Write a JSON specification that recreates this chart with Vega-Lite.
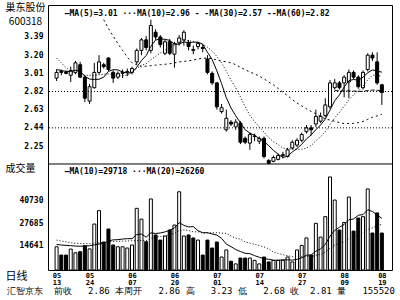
{
  "$schema": "https://vega.github.io/schema/vega-lite/v6.json",
  "width": 344,
  "height": 265,
  "autosize": "none",
  "padding": {"left": 48, "top": 5, "right": 8, "bottom": 30},
  "background": "white",
  "config": {"view": {"stroke": "black", "strokeWidth": 1}},
  "title": {"text": "汇智京东\u00a0\u00a0前收\u00a0\u00a0\u00a02.86\u00a0本周开\u00a0\u00a0\u00a02.86\u00a0高\u00a0\u00a0\u00a03.23\u00a0低\u00a0\u00a0\u00a02.68\u00a0收\u00a0\u00a02.81\u00a0量\u00a0\u00a0\u00a0155520", "orient": "bottom", "anchor": "start", "frame": "group", "dx": -41, "offset": 2, "font": "DejaVu Sans Mono", "fontSize": 9, "fontWeight": "normal", "color": "black"},
  "data": {"values": [
    {"i":0,"o":2.96,"h":3.05,"l":2.93,"c":3.02,"v":14200,"m5":3.05,"m10":3.17,"m30":null,"m60":null,"a10":15500,"a20":18000},
    {"i":1,"o":3.03,"h":3.05,"l":2.99,"c":3.02,"v":9500,"m5":3.04,"m10":3.12,"m30":null,"m60":null,"a10":15200,"a20":17500},
    {"i":2,"o":3.02,"h":3.04,"l":3.00,"c":3.01,"v":9500,"m5":3.03,"m10":3.07,"m30":null,"m60":null,"a10":15000,"a20":17000},
    {"i":3,"o":2.99,"h":3.08,"l":2.92,"c":3.04,"v":12900,"m5":3.03,"m10":3.03,"m30":null,"m60":null,"a10":14800,"a20":16500},
    {"i":4,"o":3.02,"h":3.14,"l":3.00,"c":3.12,"v":10800,"m5":3.042,"m10":3.01,"m30":null,"m60":null,"a10":14600,"a20":16200},
    {"i":5,"o":3.10,"h":3.13,"l":2.96,"c":2.97,"v":11400,"m5":3.032,"m10":3.00,"m30":null,"m60":null,"a10":14500,"a20":16000},
    {"i":6,"o":2.97,"h":2.99,"l":2.71,"c":2.75,"v":14800,"m5":2.978,"m10":2.99,"m30":null,"m60":null,"a10":14600,"a20":16000},
    {"i":7,"o":2.72,"h":2.90,"l":2.69,"c":2.87,"v":13000,"m5":2.95,"m10":2.99,"m30":null,"m60":null,"a10":14800,"a20":16000},
    {"i":8,"o":2.86,"h":3.12,"l":2.85,"c":3.02,"v":27100,"m5":2.946,"m10":2.99,"m30":null,"m60":null,"a10":15300,"a20":16200},
    {"i":9,"o":3.02,"h":3.20,"l":3.00,"c":3.13,"v":34700,"m5":2.948,"m10":2.995,"m30":null,"m60":null,"a10":15790,"a20":16500},
    {"i":10,"o":3.10,"h":3.12,"l":3.06,"c":3.08,"v":16900,"m5":2.97,"m10":3.001,"m30":3.57,"m60":null,"a10":16060,"a20":16700},
    {"i":11,"o":3.17,"h":3.18,"l":3.03,"c":3.05,"v":24300,"m5":3.03,"m10":3.004,"m30":3.48,"m60":null,"a10":17540,"a20":17000},
    {"i":12,"o":3.02,"h":3.04,"l":2.91,"c":2.96,"v":15200,"m5":3.048,"m10":2.999,"m30":3.40,"m60":null,"a10":18110,"a20":17200},
    {"i":13,"o":2.97,"h":3.03,"l":2.95,"c":3.01,"v":14200,"m5":3.046,"m10":2.996,"m30":3.32,"m60":null,"a10":18240,"a20":17300},
    {"i":14,"o":3.01,"h":3.05,"l":2.96,"c":3.02,"v":14200,"m5":3.024,"m10":2.986,"m30":3.25,"m60":null,"a10":18580,"a20":17400},
    {"i":15,"o":3.02,"h":3.06,"l":2.98,"c":3.03,"v":13500,"m5":3.014,"m10":2.992,"m30":3.18,"m60":null,"a10":18790,"a20":17500},
    {"i":16,"o":3.02,"h":3.08,"l":3.00,"c":3.06,"v":15200,"m5":3.016,"m10":3.023,"m30":3.12,"m60":null,"a10":18830,"a20":17600},
    {"i":17,"o":3.13,"h":3.27,"l":3.10,"c":3.25,"v":36000,"m5":3.074,"m10":3.061,"m30":3.10,"m60":null,"a10":21130,"a20":17700},
    {"i":18,"o":3.25,"h":3.38,"l":3.20,"c":3.36,"v":29900,"m5":3.144,"m10":3.095,"m30":3.08,"m60":null,"a10":21410,"a20":17800},
    {"i":19,"o":3.36,"h":3.40,"l":3.25,"c":3.28,"v":17100,"m5":3.196,"m10":3.11,"m30":3.085,"m60":null,"a10":19650,"a20":17720},
    {"i":20,"o":3.25,"h":3.57,"l":3.22,"c":3.51,"v":41300,"m5":3.292,"m10":3.153,"m30":3.09,"m60":null,"a10":22090,"a20":19075},
    {"i":21,"o":3.44,"h":3.47,"l":3.36,"c":3.39,"v":20900,"m5":3.358,"m10":3.187,"m30":3.095,"m60":null,"a10":21750,"a20":19645},
    {"i":22,"o":3.39,"h":3.41,"l":3.28,"c":3.31,"v":18000,"m5":3.37,"m10":3.222,"m30":3.10,"m60":null,"a10":22030,"a20":20070},
    {"i":23,"o":3.22,"h":3.36,"l":3.20,"c":3.34,"v":20300,"m5":3.366,"m10":3.255,"m30":3.105,"m60":null,"a10":22640,"a20":20440},
    {"i":24,"o":3.34,"h":3.37,"l":3.20,"c":3.22,"v":23700,"m5":3.354,"m10":3.275,"m30":3.11,"m60":null,"a10":23590,"a20":21085},
    {"i":25,"o":3.21,"h":3.34,"l":3.07,"c":3.32,"v":26500,"m5":3.316,"m10":3.304,"m30":3.12,"m60":null,"a10":24890,"a20":21840},
    {"i":26,"o":3.33,"h":3.41,"l":3.30,"c":3.38,"v":45400,"m5":3.314,"m10":3.336,"m30":3.13,"m60":null,"a10":27910,"a20":23370},
    {"i":27,"o":3.36,"h":3.46,"l":3.30,"c":3.44,"v":20300,"m5":3.34,"m10":3.355,"m30":3.135,"m60":null,"a10":26340,"a20":23735},
    {"i":28,"o":3.33,"h":3.36,"l":3.25,"c":3.29,"v":20900,"m5":3.33,"m10":3.348,"m30":3.14,"m60":null,"a10":25440,"a20":23425},
    {"i":29,"o":3.26,"h":3.30,"l":3.21,"c":3.25,"v":19200,"m5":3.336,"m10":3.345,"m30":3.15,"m60":null,"a10":25650,"a20":22650},
    {"i":30,"o":3.29,"h":3.34,"l":3.26,"c":3.32,"v":18000,"m5":3.336,"m10":3.326,"m30":3.16,"m60":null,"a10":23320,"a20":22705},
    {"i":31,"o":3.28,"h":3.31,"l":3.23,"c":3.27,"v":9500,"m5":3.314,"m10":3.314,"m30":3.168,"m60":null,"a10":22180,"a20":21965},
    {"i":32,"o":3.16,"h":3.20,"l":3.00,"c":3.02,"v":18000,"m5":3.23,"m10":3.285,"m30":3.169,"m60":null,"a10":22180,"a20":22105},
    {"i":33,"o":3.01,"h":3.03,"l":2.89,"c":2.91,"v":13500,"m5":3.154,"m10":3.242,"m30":3.164,"m60":null,"a10":21500,"a20":22070},
    {"i":34,"o":2.91,"h":2.92,"l":2.63,"c":2.66,"v":16900,"m5":3.036,"m10":3.186,"m30":3.149,"m60":null,"a10":20820,"a20":22205},
    {"i":35,"o":2.61,"h":2.69,"l":2.59,"c":2.65,"v":8400,"m5":2.902,"m10":3.119,"m30":3.138,"m60":null,"a10":19010,"a20":21950},
    {"i":36,"o":2.42,"h":2.63,"l":2.40,"c":2.54,"v":12400,"m5":2.756,"m10":3.035,"m30":3.131,"m60":null,"a10":15710,"a20":21810},
    {"i":37,"o":2.50,"h":2.52,"l":2.46,"c":2.48,"v":6000,"m5":2.648,"m10":2.939,"m30":3.118,"m60":null,"a10":14280,"a20":20310},
    {"i":38,"o":2.45,"h":2.53,"l":2.42,"c":2.50,"v":4500,"m5":2.566,"m10":2.86,"m30":3.101,"m60":null,"a10":12640,"a20":19040},
    {"i":39,"o":2.49,"h":2.51,"l":2.27,"c":2.29,"v":7800,"m5":2.492,"m10":2.764,"m30":3.073,"m60":null,"a10":11500,"a20":18575},
    {"i":40,"o":2.33,"h":2.35,"l":2.27,"c":2.29,"v":7800,"m5":2.42,"m10":2.661,"m30":3.047,"m60":null,"a10":10480,"a20":16900},
    {"i":41,"o":2.28,"h":2.39,"l":2.21,"c":2.37,"v":7800,"m5":2.386,"m10":2.571,"m30":3.024,"m60":null,"a10":10310,"a20":16245},
    {"i":42,"o":2.35,"h":2.38,"l":2.30,"c":2.355,"v":6500,"m5":2.361,"m10":2.505,"m30":3.004,"m60":null,"a10":9160,"a20":15670},
    {"i":43,"o":2.30,"h":2.35,"l":2.27,"c":2.33,"v":4500,"m5":2.327,"m10":2.447,"m30":2.981,"m60":null,"a10":8260,"a20":14880},
    {"i":44,"o":2.33,"h":2.35,"l":2.12,"c":2.14,"v":8400,"m5":2.297,"m10":2.395,"m30":2.952,"m60":null,"a10":7410,"a20":14115},
    {"i":45,"o":2.10,"h":2.11,"l":2.06,"c":2.07,"v":5600,"m5":2.253,"m10":2.337,"m30":2.92,"m60":null,"a10":7130,"a20":13070},
    {"i":46,"o":2.09,"h":2.15,"l":2.08,"c":2.13,"v":6500,"m5":2.205,"m10":2.296,"m30":2.889,"m60":null,"a10":6540,"a20":11125},
    {"i":47,"o":2.11,"h":2.17,"l":2.10,"c":2.15,"v":6500,"m5":2.164,"m10":2.263,"m30":2.852,"m60":null,"a10":6590,"a20":10435},
    {"i":48,"o":2.15,"h":2.19,"l":2.12,"c":2.16,"v":6500,"m5":2.13,"m10":2.229,"m30":2.812,"m60":null,"a10":6790,"a20":9715},
    {"i":49,"o":2.14,"h":2.23,"l":2.13,"c":2.21,"v":8400,"m5":2.144,"m10":2.221,"m30":2.777,"m60":null,"a10":6850,"a20":9175},
    {"i":50,"o":2.23,"h":2.31,"l":2.21,"c":2.29,"v":5600,"m5":2.188,"m10":2.221,"m30":2.736,"m60":null,"a10":6630,"a20":8555},
    {"i":51,"o":2.26,"h":2.33,"l":2.24,"c":2.31,"v":12400,"m5":2.224,"m10":2.215,"m30":2.70,"m60":null,"a10":7090,"a20":8700},
    {"i":52,"o":2.31,"h":2.39,"l":2.29,"c":2.37,"v":15000,"m5":2.268,"m10":2.216,"m30":2.669,"m60":null,"a10":7940,"a20":8550},
    {"i":53,"o":2.40,"h":2.47,"l":2.38,"c":2.44,"v":19200,"m5":2.324,"m10":2.227,"m30":2.639,"m60":null,"a10":9410,"a20":8835},
    {"i":54,"o":2.44,"h":2.47,"l":2.36,"c":2.42,"v":9500,"m5":2.366,"m10":2.255,"m30":2.612,"m60":null,"a10":9520,"a20":8465},
    {"i":55,"o":2.48,"h":2.63,"l":2.45,"c":2.56,"v":27500,"m5":2.42,"m10":2.304,"m30":2.587,"m60":null,"a10":11710,"a20":9420},
    {"i":56,"o":2.51,"h":2.60,"l":2.49,"c":2.56,"v":19700,"m5":2.47,"m10":2.347,"m30":2.559,"m60":null,"a10":13030,"a20":9785},
    {"i":57,"o":2.57,"h":2.75,"l":2.55,"c":2.68,"v":31300,"m5":2.532,"m10":2.40,"m30":2.534,"m60":null,"a10":15510,"a20":11050},
    {"i":58,"o":2.66,"h":2.94,"l":2.64,"c":2.91,"v":53800,"m5":2.626,"m10":2.475,"m30":2.521,"m60":null,"a10":20240,"a20":13515},
    {"i":59,"o":2.86,"h":2.95,"l":2.84,"c":2.91,"v":40700,"m5":2.724,"m10":2.545,"m30":2.51,"m60":2.83,"a10":23470,"a20":15160},
    {"i":60,"o":2.91,"h":2.93,"l":2.84,"c":2.86,"v":23700,"m5":2.784,"m10":2.602,"m30":2.495,"m60":2.827,"a10":25280,"a20":15955},
    {"i":61,"o":2.91,"h":2.99,"l":2.76,"c":2.97,"v":28000,"m5":2.866,"m10":2.668,"m30":2.485,"m60":2.826,"a10":26840,"a20":16965},
    {"i":62,"o":2.92,"h":3.05,"l":2.75,"c":3.02,"v":42400,"m5":2.934,"m10":2.733,"m30":2.485,"m60":2.827,"a10":29580,"a20":18760},
    {"i":63,"o":3.02,"h":3.04,"l":2.95,"c":2.97,"v":23100,"m5":2.946,"m10":2.786,"m30":2.487,"m60":2.825,"a10":29970,"a20":19690},
    {"i":64,"o":2.97,"h":2.99,"l":2.85,"c":2.87,"v":30500,"m5":2.938,"m10":2.831,"m30":2.494,"m60":2.821,"a10":32070,"a20":20795},
    {"i":65,"o":2.86,"h":3.04,"l":2.84,"c":3.02,"v":31300,"m5":2.97,"m10":2.877,"m30":2.506,"m60":2.822,"a10":32450,"a20":22080},
    {"i":66,"o":3.05,"h":3.22,"l":3.03,"c":3.20,"v":47000,"m5":3.016,"m10":2.941,"m30":2.528,"m60":2.83,"a10":35180,"a20":24105},
    {"i":67,"o":3.20,"h":3.23,"l":3.14,"c":3.17,"v":22000,"m5":3.046,"m10":2.99,"m30":2.551,"m60":2.835,"a10":34250,"a20":24880},
    {"i":68,"o":3.13,"h":3.23,"l":2.89,"c":2.91,"v":33400,"m5":3.034,"m10":2.99,"m30":2.565,"m60":2.833,"a10":32210,"a20":26225},
    {"i":69,"o":2.89,"h":2.90,"l":2.68,"c":2.81,"v":22000,"m5":3.022,"m10":2.98,"m30":2.582,"m60":2.827,"a10":30340,"a20":26905}
  ]},
  "layer": [
    {
      "layer": [
        {
          "mark": {"type": "rule", "color": "black", "strokeWidth": 1},
          "encoding": {
            "x": {"field": "i", "type": "quantitative", "scale": {"domain": [-0.762, 70.09], "nice": false, "zero": false},
              "axis": {"values": [0, 7, 16, 25, 34, 43, 52, 61, 69], "labelExpr": "datum.value==0?['05','13']:datum.value==7?['05','24']:datum.value==16?['06','07']:datum.value==25?['06','20']:datum.value==34?['07','01']:datum.value==43?['07','14']:datum.value==52?['07','27']:datum.value==61?['08','09']:['08','19']", "labelFlush": 6, "labelFlushOffset": 8, "domain": false, "ticks": false, "grid": false, "labelPadding": 1, "labelFont": "DejaVu Sans Mono", "labelFontSize": 7, "labelFontWeight": "bold", "labelLineHeight": 7, "labelColor": "black", "title": "日线", "titleAngle": 0, "titleX": -43, "titleY": 6, "titleAlign": "left", "titleBaseline": "middle", "titleFont": "Noto Sans CJK SC", "titleFontSize": 11, "titleFontWeight": "normal", "titleColor": "black"}},
            "y": {"field": "l", "type": "quantitative", "scale": {"domain": [0.9535, 3.7246], "nice": false, "zero": false},
              "axis": {"values": [2.25, 2.44, 2.63, 2.82, 3.01, 3.20, 3.39], "format": ".2f", "ticks": false, "domain": false, "grid": false, "labelPadding": 5, "labelFont": "DejaVu Sans Mono", "labelFontSize": 8, "labelFontWeight": "bold", "labelColor": "black", "title": ["巢东股份", "600318"], "titleAngle": 0, "titleX": -23, "titleY": -3, "titleAlign": "center", "titleBaseline": "top", "titleFont": "Noto Sans CJK SC", "titleFontSize": 10, "titleFontWeight": "normal", "titleLineHeight": 14.5, "titleColor": "black"}},
            "y2": {"field": "h"}
          }
        },
        {
          "mark": {"type": "bar", "size": 3, "stroke": "black", "strokeWidth": 1},
          "encoding": {
            "x": {"field": "i", "type": "quantitative", "scale": {"domain": [-0.762, 70.09], "nice": false, "zero": false}},
            "y": {"field": "o", "type": "quantitative", "scale": {"domain": [0.9535, 3.7246], "nice": false, "zero": false}},
            "y2": {"field": "c"},
            "fill": {"condition": {"test": "datum.c > datum.o", "value": "white"}, "value": "black"}
          }
        },
        {
          "mark": {"type": "line", "color": "black", "strokeWidth": 1},
          "encoding": {
            "x": {"field": "i", "type": "quantitative", "scale": {"domain": [-0.762, 70.09], "nice": false, "zero": false}},
            "y": {"field": "m5", "type": "quantitative", "scale": {"domain": [0.9535, 3.7246], "nice": false, "zero": false}}
          }
        },
        {
          "mark": {"type": "line", "color": "black", "strokeWidth": 1, "strokeDash": [1, 2]},
          "encoding": {
            "x": {"field": "i", "type": "quantitative", "scale": {"domain": [-0.762, 70.09], "nice": false, "zero": false}},
            "y": {"field": "m10", "type": "quantitative", "scale": {"domain": [0.9535, 3.7246], "nice": false, "zero": false}}
          }
        },
        {
          "mark": {"type": "line", "color": "black", "strokeWidth": 1, "strokeDash": [2, 3]},
          "encoding": {
            "x": {"field": "i", "type": "quantitative", "scale": {"domain": [-0.762, 70.09], "nice": false, "zero": false}},
            "y": {"field": "m30", "type": "quantitative", "scale": {"domain": [0.9535, 3.7246], "nice": false, "zero": false}}
          }
        },
        {
          "mark": {"type": "line", "color": "black", "strokeWidth": 1, "strokeDash": [4, 2]},
          "encoding": {
            "x": {"field": "i", "type": "quantitative", "scale": {"domain": [-0.762, 70.09], "nice": false, "zero": false}},
            "y": {"field": "m60", "type": "quantitative", "scale": {"domain": [0.9535, 3.7246], "nice": false, "zero": false}}
          }
        },
        {
          "data": {"values": [{"p": 2.82}, {"p": 2.44}]},
          "mark": {"type": "rule", "color": "black", "strokeWidth": 1, "strokeDash": [1, 2]},
          "encoding": {
            "y": {"field": "p", "type": "quantitative", "scale": {"domain": [0.9535, 3.7246], "nice": false, "zero": false}}
          }
        },
        {
          "data": {"values": [{"p": 2.062}]},
          "mark": {"type": "rule", "color": "black", "strokeWidth": 1},
          "encoding": {
            "y": {"field": "p", "type": "quantitative", "scale": {"domain": [0.9535, 3.7246], "nice": false, "zero": false}}
          }
        },
        {
          "data": {"values": [{"t": "—MA(5)=3.01 ···MA(10)=2.96 - -MA(30)=2.57 --MA(60)=2.82"}]},
          "mark": {"type": "text", "align": "left", "baseline": "middle", "font": "DejaVu Sans Mono", "fontSize": 8, "fontWeight": "bold", "color": "black"},
          "encoding": {
            "x": {"datum": 1.71, "scale": {"domain": [-0.762, 70.09], "nice": false, "zero": false}},
            "y": {"datum": 3.63, "scale": {"domain": [0.9535, 3.7246], "nice": false, "zero": false}},
            "text": {"field": "t"}
          }
        }
      ]
    },
    {
      "layer": [
        {
          "mark": {"type": "bar", "size": 3, "stroke": "black", "strokeWidth": 1},
          "encoding": {
            "x": {"field": "i", "type": "quantitative", "scale": {"domain": [-0.762, 70.09], "nice": false, "zero": false}},
            "y": {"field": "v", "type": "quantitative", "scale": {"domain": [1028, 151336], "nice": false, "zero": false},
              "axis": {"orient": "left", "values": [14641, 27685, 40730], "format": "d", "ticks": false, "domain": false, "grid": false, "labelPadding": 5, "labelFont": "DejaVu Sans Mono", "labelFontSize": 8, "labelFontWeight": "bold", "labelColor": "black", "title": "成交量", "titleAngle": 0, "titleX": -43, "titleY": 163, "titleAlign": "left", "titleBaseline": "middle", "titleFont": "Noto Sans CJK SC", "titleFontSize": 10, "titleFontWeight": "normal", "titleColor": "black"}},
            "y2": {"datum": 1028},
            "fill": {"condition": {"test": "datum.c > datum.o", "value": "white"}, "value": "black"}
          }
        },
        {
          "mark": {"type": "line", "color": "black", "strokeWidth": 1},
          "encoding": {
            "x": {"field": "i", "type": "quantitative", "scale": {"domain": [-0.762, 70.09], "nice": false, "zero": false}},
            "y": {"field": "a10", "type": "quantitative", "scale": {"domain": [1028, 151336], "nice": false, "zero": false}}
          }
        },
        {
          "mark": {"type": "line", "color": "black", "strokeWidth": 1, "strokeDash": [1, 2]},
          "encoding": {
            "x": {"field": "i", "type": "quantitative", "scale": {"domain": [-0.762, 70.09], "nice": false, "zero": false}},
            "y": {"field": "a20", "type": "quantitative", "scale": {"domain": [1028, 151336], "nice": false, "zero": false}}
          }
        },
        {
          "data": {"values": [{"t": "—MA(10)=29718 ···MA(20)=26260"}]},
          "mark": {"type": "text", "align": "left", "baseline": "middle", "font": "DejaVu Sans Mono", "fontSize": 8, "fontWeight": "bold", "color": "black"},
          "encoding": {
            "x": {"datum": 1.71, "scale": {"domain": [-0.762, 70.09], "nice": false, "zero": false}},
            "y": {"datum": 56614, "scale": {"domain": [1028, 151336], "nice": false, "zero": false}},
            "text": {"field": "t"}
          }
        }
      ]
    }
  ],
  "resolve": {"scale": {"y": "independent"}}
}
